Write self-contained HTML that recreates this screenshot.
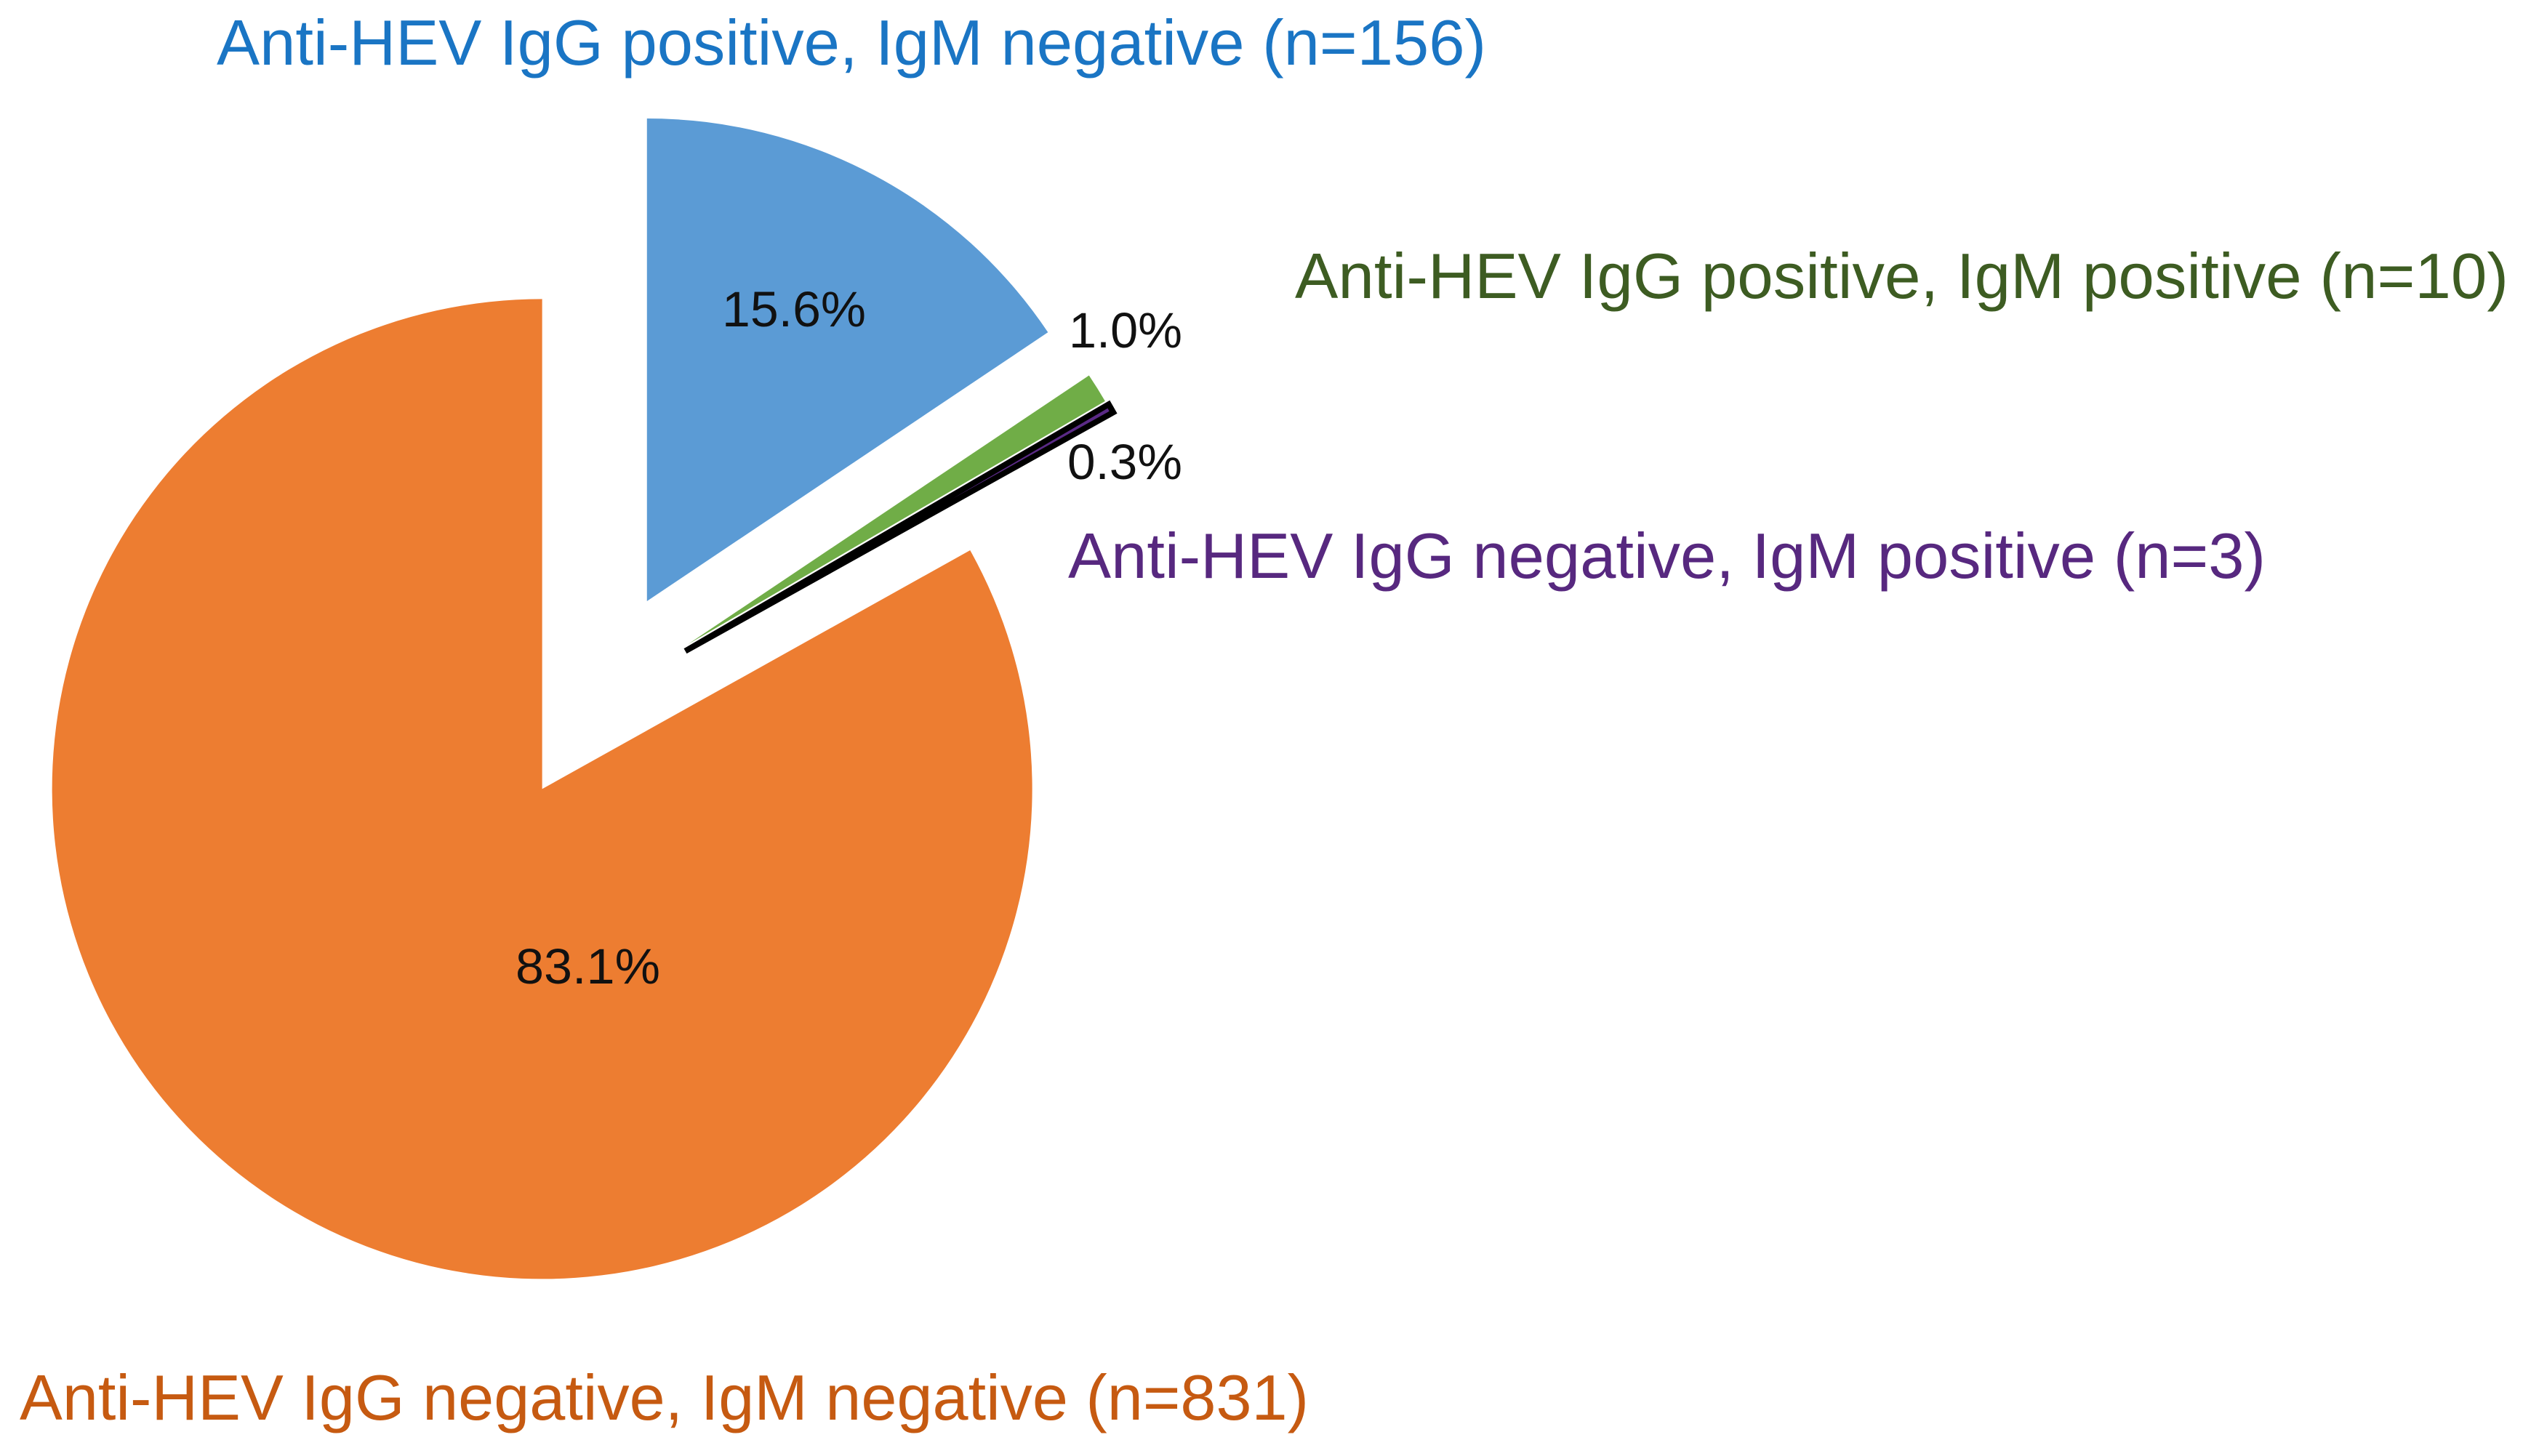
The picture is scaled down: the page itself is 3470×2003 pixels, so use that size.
<!DOCTYPE html>
<html lang="en">
<head>
<meta charset="utf-8">
<title>Anti-HEV IgG and IgM status pie chart</title>
<style>
html,body{margin:0;padding:0;background:#fff;}
#chart{display:block;width:3470px;height:2003px;}
text{font-family:"Liberation Sans",sans-serif;}
.outer{font-size:88px;}
.pct{font-size:69px;fill:#111;}
</style>
</head>
<body>
<svg id="chart" xmlns="http://www.w3.org/2000/svg" width="3470" height="2003" viewBox="0 0 3470 2003">
<rect x="0" y="0" width="3470" height="2003" fill="#ffffff"/>
<g id="slices"></g>
<text class="outer" x="298" y="89" fill="#1a75c4" textLength="1746" lengthAdjust="spacingAndGlyphs">Anti-HEV IgG positive, IgM negative (n=156)</text>
<text class="outer" x="1781" y="410" fill="#3d5c22" textLength="1669" lengthAdjust="spacingAndGlyphs">Anti-HEV IgG positive, IgM positive (n=10)</text>
<text class="outer" x="1469" y="795" fill="#57287f" textLength="1647" lengthAdjust="spacingAndGlyphs">Anti-HEV IgG negative, IgM positive (n=3)</text>
<text class="outer" x="27" y="1953" fill="#c65a11" textLength="1773" lengthAdjust="spacingAndGlyphs">Anti-HEV IgG negative, IgM negative (n=831)</text>
<text class="pct" x="993" y="449" textLength="198" lengthAdjust="spacingAndGlyphs">15.6%</text>
<text class="pct" x="1470" y="478" textLength="156" lengthAdjust="spacingAndGlyphs">1.0%</text>
<text class="pct" x="1468" y="659" textLength="158" lengthAdjust="spacingAndGlyphs">0.3%</text>
<text class="pct" x="709" y="1353" textLength="199" lengthAdjust="spacingAndGlyphs">83.1%</text>
</svg>
<script>
const categories = ["igg-positive-igm-negative", "igg-positive-igm-positive", "igg-negative-igm-positive", "igg-negative-igm-negative"];
const counts = [156, 10, 3, 831];

const ORIGIN_X = 814;
const ORIGIN_Y = 969;
const sliceStyle = {
  "igg-positive-igm-negative": {fill: "#5b9bd5", stroke: "none", strokeWidth: 0, explode: 161, radius: 664},
  "igg-positive-igm-positive": {fill: "#70ad47", stroke: "none", strokeWidth: 0, explode: 156, radius: 664},
  "igg-negative-igm-positive": {fill: "#5a2a86", stroke: "#000000", strokeWidth: 8, explode: 148, radius: 674},
  "igg-negative-igm-negative": {fill: "#ed7d31", stroke: "none", strokeWidth: 0, explode: 135, radius: 674}
};

function valueToAngle(v, total) {
  return v / total * 2 * Math.PI;
}
function polar(cx, cy, r, a) {
  return [cx + r * Math.sin(a), cy - r * Math.cos(a)];
}

const total = counts.reduce(function (s, v) { return s + v; }, 0);
const group = document.getElementById("slices");
let cumulative = 0;
categories.forEach(function (cat, i) {
  const st = sliceStyle[cat];
  const a0 = valueToAngle(cumulative, total);
  cumulative += counts[i];
  const a1 = valueToAngle(cumulative, total);
  const mid = (a0 + a1) / 2;
  const c = polar(ORIGIN_X, ORIGIN_Y, st.explode, mid);
  const p0 = polar(c[0], c[1], st.radius, a0);
  const p1 = polar(c[0], c[1], st.radius, a1);
  const large = (a1 - a0) > Math.PI ? 1 : 0;
  const d = "M" + c[0] + " " + c[1] + " L" + p0[0] + " " + p0[1] +
    " A" + st.radius + " " + st.radius + " 0 " + large + " 1 " + p1[0] + " " + p1[1] + " Z";
  const path = document.createElementNS("http://www.w3.org/2000/svg", "path");
  path.setAttribute("d", d);
  path.setAttribute("fill", st.fill);
  path.setAttribute("stroke", st.stroke);
  path.setAttribute("stroke-width", st.strokeWidth);
  path.setAttribute("stroke-miterlimit", "4");
  
  
  group.appendChild(path);
});
</script>
</body>
</html>
